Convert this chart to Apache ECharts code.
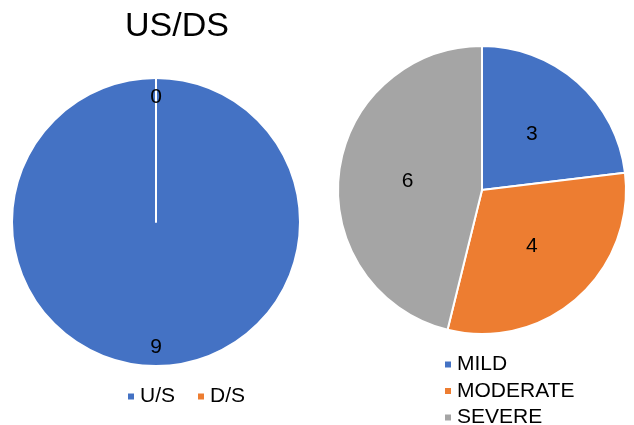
<!DOCTYPE html>
<html>
<head>
<meta charset="utf-8">
<script src="https://cdn.jsdelivr.net/npm/echarts@6/dist/echarts.min.js"></script>
<style>
  html, body { margin: 0; padding: 0; background: #ffffff; }
  #chart { width: 634px; height: 425px; }
</style>
</head>
<body>
<div id="chart"></div>
<script>
// left pie: upstream / downstream
const sideNames = ["U/S", "D/S"]
const sideValues = [9, 0]
// right pie: severity
const severityNames = ["MILD", "MODERATE", "SEVERE"]
const severityValues = [3, 4, 6]

const palette = ["#4472C4", "#ED7D31", "#A5A5A5"]
const font = "Liberation Sans, Arial, sans-serif"

// colour by position so both pies start with blue
const toData = (names, values, transparent) =>
  names.map((n, i) => ({
    name: n,
    value: values[i],
    itemStyle: { color: transparent ? "transparent" : palette[i] }
  }))

const legendText = { fontFamily: font, fontSize: 21, lineHeight: 20, color: "#000" }
const valueLabel = {
  show: true,
  position: "inside",
  formatter: "{c}",
  fontFamily: font,
  fontSize: 21,
  color: "#000"
}

const chart = echarts.init(document.getElementById("chart"), null, { renderer: "canvas" })
chart.setOption({
  animation: false,
  title: {
    text: "US/DS",
    left: 172,
    top: 5,
    textAlign: "center",
    textStyle: { fontFamily: font, fontSize: 34, fontWeight: "normal", color: "#000" }
  },
  legend: [
    {
      data: sideNames,
      orient: "horizontal",
      left: 126,
      top: 386,
      padding: 0,
      icon: "rect",
      itemWidth: 8,
      itemHeight: 8,
      itemGap: 21,
      textStyle: legendText
    },
    {
      data: severityNames,
      orient: "vertical",
      left: 443,
      top: 354,
      height: 100,
      padding: 0,
      icon: "rect",
      itemWidth: 8,
      itemHeight: 8,
      itemGap: 5.5,
      textStyle: legendText
    }
  ],
  series: [
    {
      name: "US/DS",
      type: "pie",
      center: [156, 222],
      radius: [0, 144],
      startAngle: 90,
      clockwise: true,
      silent: true,
      itemStyle: { borderColor: "#fff", borderWidth: 2 },
      label: { show: false },
      labelLine: { show: false },
      data: toData(sideNames, sideValues)
    },
    {
      // label ring: puts the values near the rim like the original
      name: "US/DS labels",
      type: "pie",
      center: [156, 222],
      radius: [100, 144],
      startAngle: 90,
      clockwise: true,
      silent: true,
      legendHoverLink: false,
      itemStyle: { borderWidth: 0 },
      label: valueLabel,
      labelLine: { show: false },
      data: toData(sideNames, sideValues, true)
    },
    {
      name: "Severity",
      type: "pie",
      center: [482, 190],
      radius: [0, 144],
      startAngle: 90,
      clockwise: true,
      silent: true,
      itemStyle: { borderColor: "#fff", borderWidth: 2 },
      label: valueLabel,
      labelLine: { show: false },
      data: toData(severityNames, severityValues)
    }
  ]
})
</script>
</body>
</html>
